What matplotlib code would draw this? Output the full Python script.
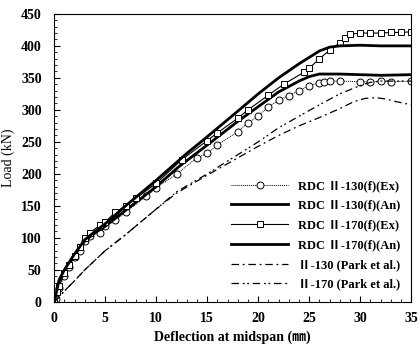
import matplotlib
matplotlib.use("Agg")
import matplotlib.pyplot as plt
from matplotlib.ticker import MultipleLocator

plt.rcParams['font.family'] = ['Liberation Serif', 'Noto Sans CJK JP', 'DejaVu Sans']

# RDC II-130(f)(Ex)
x130ex = [0, 0.2, 0.5, 1, 1.5, 2, 2.5, 3, 3.5, 4.5, 5, 6, 7, 9, 10, 12, 14, 15, 16, 18, 19, 20,
          21, 22, 23, 24, 25, 26, 26.5, 27, 28, 30, 31, 32, 33, 35]
y130ex = [0, 5, 22, 40, 55, 70, 80, 95, 103, 108, 118, 128, 140, 165, 178, 200, 225, 232, 245, 266, 280, 290,
          305, 315, 322, 330, 338, 342, 344, 345, 345, 344, 344, 345, 344, 345]
# RDC II-130(f)(An)
x130an = [0, 0.5, 1, 2, 3, 4, 5, 7, 10, 12.2, 15, 18, 20, 22, 24, 25, 26, 28, 30, 32, 35]
y130an = [0, 33, 48, 73, 95, 108, 118, 143, 180, 211, 245, 282, 305, 328, 345, 352, 356, 356, 355, 354, 355]
# RDC II-170(f)(Ex)
x170ex = [0, 0.3, 0.5, 1, 1.5, 2, 2.5, 3, 3.5, 4.5, 5, 6, 7, 8, 10, 12.5, 15, 16, 18, 19, 21, 22.5,
          24.5, 25, 26, 27, 28, 28.5, 29, 30, 31, 32, 33, 34, 35]
y170ex = [0, 15, 25, 45, 58, 72, 85, 100, 108, 120, 125, 140, 150, 162, 185, 222, 252, 264, 287, 300, 323, 340,
          359, 365, 380, 393, 405, 412, 418, 420, 420, 420, 421, 421, 422]
# RDC II-170(f)(An)
x170an = [0, 0.5, 1, 2, 3, 4, 5, 7, 10, 13, 15, 18, 20, 22, 24, 25, 26, 27, 28, 30, 32, 35]
y170an = [0, 35, 50, 75, 97, 110, 122, 150, 190, 232, 258, 298, 325, 350, 372, 382, 392, 398, 400, 401, 400, 400]
# II-130 (Park et al.)
xp130 = [0, 0.5, 1, 2, 3, 4, 5, 7, 10, 12, 15, 18, 20, 22, 24, 26, 28, 29.4, 30.5, 31.6, 32.5, 33.5, 35]
yp130 = [0, 8, 17, 33, 50, 65, 80, 105, 145, 170, 198, 225, 243, 260, 275, 288, 302, 313, 318, 319, 317, 313, 308]
# II-170 (Park et al.)
xp170 = [0, 0.5, 1, 2, 3, 4, 5, 7, 10, 12, 15, 18, 20, 22, 24, 26, 28, 30, 31, 32, 33, 35]
yp170 = [0, 8, 17, 33, 50, 65, 80, 105, 145, 172, 200, 230, 250, 272, 290, 308, 325, 338, 343, 345, 345, 345]

labels = ['RDC \u2161-130(f)(Ex)', 'RDC \u2161-130(f)(An)', 'RDC \u2161-170(f)(Ex)',
          'RDC \u2161-170(f)(An)', '\u2161-130 (Park et al.)', '\u2161-170 (Park et al.)']

fig = plt.figure(figsize=(4.2, 3.47), dpi=100)
ax = fig.add_axes([0.129, 0.130, 0.850, 0.830])

ax.plot(x130ex, y130ex, color='black', lw=0.7, ls=(0, (1, 1)), marker='o', ms=5,
        mfc='white', mec='black', mew=0.7, label=labels[0])
ax.plot(x130an, y130an, color='black', lw=2.0, label=labels[1])
ax.plot(x170ex, y170ex, color='black', lw=0.8, marker='s', ms=5,
        mfc='white', mec='black', mew=0.7, label=labels[2])
ax.plot(x170an, y170an, color='black', lw=2.0, label=labels[3])
ax.plot(xp130, yp130, color='black', lw=0.9, ls=(0, (6, 3, 1.5, 3)), label=labels[4])
ax.plot(xp170, yp170, color='black', lw=0.9, ls=(0, (6, 3, 1.5, 2, 1.5, 3)), label=labels[5])

ax.set_xlim(0, 35)
ax.set_ylim(0, 450)
ax.xaxis.set_major_locator(MultipleLocator(5))
ax.xaxis.set_minor_locator(MultipleLocator(1))
ax.yaxis.set_major_locator(MultipleLocator(50))
ax.yaxis.set_minor_locator(MultipleLocator(10))
ax.tick_params(which='both', direction='in', labelsize=10)
ax.tick_params(which='major', length=4)
ax.tick_params(axis='x', which='major', pad=7)
ax.tick_params(axis='y', which='major', pad=9)
ax.tick_params(which='minor', length=2)
for lab in ax.get_xticklabels() + ax.get_yticklabels():
    lab.set_fontweight('bold')

ax.set_ylabel('Load (kN)', fontsize=10)
ax.set_xlabel('Deflection at midspan (\u339c)', fontsize=10, fontweight='bold')

leg = ax.legend(loc='lower right', frameon=False, handlelength=4.5,
                labelspacing=0.62, bbox_to_anchor=(1.0, 0.0),
                prop={'weight': 'bold', 'size': 9})
fig.savefig('out.png', dpi=100)
